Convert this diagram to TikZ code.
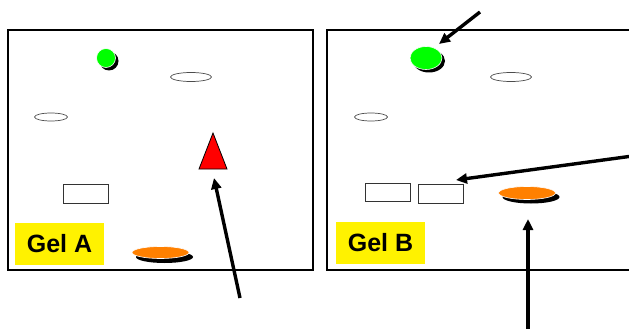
\documentclass[tikz,border=0pt]{standalone}
\usepackage{fontspec}
\setmainfont{Liberation Sans}
\usetikzlibrary{arrows.meta}
\begin{document}
\begin{tikzpicture}[x=1pt,y=-1pt,
  frame/.style={draw=black,line width=1.3pt},
  band/.style={draw=black!70,line width=0.7pt,fill=white},
  boxband/.style={draw=black!80,line width=1pt,fill=white,inner sep=0pt},
  shadow/.style={fill=black},
  lbl/.style={fill=yellow,inner sep=0pt,minimum width=89pt,minimum height=42pt,font=\fontsize{25}{25}\selectfont\bfseries},
  pointer/.style={line width=3.4pt,-{Triangle[length=11pt,width=10pt]}}
]
\useasboundingbox (0,0) rectangle (629,329);
% frames
\draw[frame] (8,30) rectangle (313,270);
\draw[frame] (640,30) -- (327,30) -- (327,270) -- (640,270);
% Gel A
\fill[shadow] (109,61) circle (9.5);
\draw[white,fill=green,line width=0.6pt] (106,58) circle (9.5);
\draw[band] (191,77) ellipse (20.5 and 4.5);
\draw[band] (51,117) ellipse (16.5 and 4);
\draw[fill=red,line width=0.8pt] (213,133) -- (227,169) -- (199,169) -- cycle;
\node[boxband,minimum width=45pt,minimum height=19pt] (ra) at (85.5,193.5) {};
\fill[shadow] (164.5,257) ellipse (28.5 and 6);
\draw[white,fill=orange,line width=0.6pt] (160.5,252.5) ellipse (28.5 and 6);
\node[lbl] (ga) at (59.5,244) {Gel A};
% Gel B
\fill[shadow] (429,61) ellipse (16 and 11.5);
\draw[white,fill=green,line width=0.6pt] (426,58) ellipse (16 and 11.5);
\draw[band] (511,77) ellipse (20.5 and 4.5);
\draw[band] (371,117) ellipse (16.5 and 4);
\node[boxband,minimum width=45pt,minimum height=18pt] (rb1) at (387.5,192) {};
\node[boxband,minimum width=45pt,minimum height=19pt] (rb2) at (440.5,193.5) {};
\fill[shadow] (531,197) ellipse (28.5 and 6.5);
\draw[white,fill=orange,line width=0.6pt] (527,193) ellipse (28.5 and 6.5);
\node[lbl] (gb) at (380.5,242.5) {Gel B};
% arrows
\coordinate (t1) at (240,298);
\coordinate (h1) at (214,178);
\draw[pointer] (t1) -- (h1);
\coordinate (t2) at (480,12);
\coordinate (h2) at (439,44);
\draw[pointer] (t2) -- (h2);
\coordinate (t3) at (640,155);
\coordinate (h3) at (456,180);
\draw[pointer] (t3) -- (h3);
\coordinate (t4) at (528,329);
\coordinate (h4) at (528,219);
\draw[pointer] (t4) -- (h4);
\end{tikzpicture}
\end{document}
